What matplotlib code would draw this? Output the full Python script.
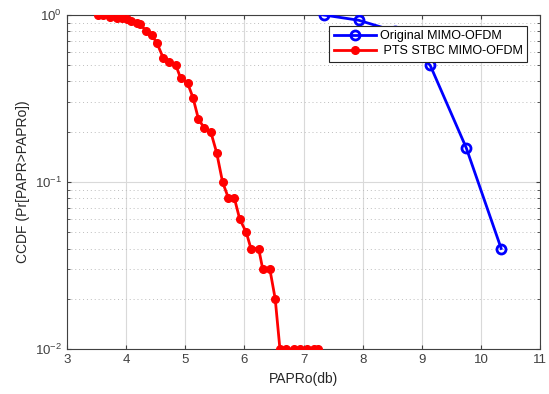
import matplotlib
matplotlib.use("Agg")
import matplotlib.pyplot as plt
from matplotlib.ticker import LogLocator

plt.rcParams['font.family'] = ['Liberation Sans', 'DejaVu Sans']

orig_x = [7.34, 7.93, 8.54, 9.14, 9.75, 10.34]
orig_y = [1.0, 0.93, 0.80, 0.50, 0.16, 0.04]

pts_x = [3.52, 3.61, 3.73, 3.84, 3.93, 4.01, 4.09, 4.18, 4.24, 4.34, 4.43, 4.52,
         4.63, 4.73, 4.84, 4.92, 5.04, 5.13, 5.22, 5.32, 5.43, 5.53, 5.63, 5.73,
         5.83, 5.92, 6.03, 6.11, 6.24, 6.31, 6.43, 6.52, 6.60, 6.71, 6.83, 6.94,
         7.05, 7.17, 7.25]
pts_y = [1.0, 1.0, 0.97, 0.955, 0.955, 0.946, 0.924, 0.90, 0.88, 0.80, 0.76, 0.68,
         0.55, 0.52, 0.50, 0.42, 0.39, 0.32, 0.24, 0.21, 0.20, 0.15, 0.10, 0.08,
         0.08, 0.06, 0.05, 0.04, 0.04, 0.03, 0.03, 0.02, 0.01, 0.01, 0.01, 0.01,
         0.01, 0.01, 0.01]

xticks = [3, 4, 5, 6, 7, 8, 9, 10, 11]

fig = plt.figure(figsize=(5.49, 3.94), dpi=100)
ax = fig.add_axes([0.122, 0.114, 0.862, 0.848])

ax.semilogy(orig_x, orig_y, '-o', color='#0000ff', lw=2, ms=6.5, mfc='none', mew=2,
            label='Original MIMO-OFDM', zorder=3)
ax.semilogy(pts_x, pts_y, '-o', color='#ff0000', lw=2, ms=5.5, mfc='#ff0000', mec='#ff0000',
            label=' PTS STBC MIMO-OFDM', zorder=3)

ax.set_xlim(3, 11)
ax.set_ylim(0.01, 1)
ax.set_xticks(xticks)
ax.yaxis.set_major_locator(LogLocator(base=10, numticks=5))
ax.yaxis.set_minor_locator(LogLocator(base=10, subs=range(2, 10), numticks=20))

ax.grid(True, which='major', color='#d9d9d9', lw=0.8, ls='-')
ax.grid(True, which='minor', axis='y', color='#bdbdbd', lw=0.7, ls=(0, (1, 3)))
ax.set_axisbelow(True)

ax.tick_params(which='both', direction='in', top=True, right=True, colors='#404040',
               labelsize=9.5)
ax.tick_params(which='major', length=3)
ax.tick_params(which='minor', length=2)
for s in ax.spines.values():
    s.set_color('#404040')
    s.set_linewidth(0.8)

ax.set_xlabel('PAPRo(db)', fontsize=10, color='#262626')
ax.set_ylabel('CCDF (Pr[PAPR>PAPRo])', fontsize=10, color='#262626')

leg = ax.legend(loc='upper right', bbox_to_anchor=(0.9725, 0.967), borderaxespad=0,
                fontsize=9, fancybox=False, framealpha=1, edgecolor='#262626',
                handlelength=3.4, borderpad=0.35, labelspacing=0.25, handletextpad=0.3)
leg.get_frame().set_linewidth(0.8)
leg.set_zorder(5)

fig.savefig('out.png', dpi=100)
